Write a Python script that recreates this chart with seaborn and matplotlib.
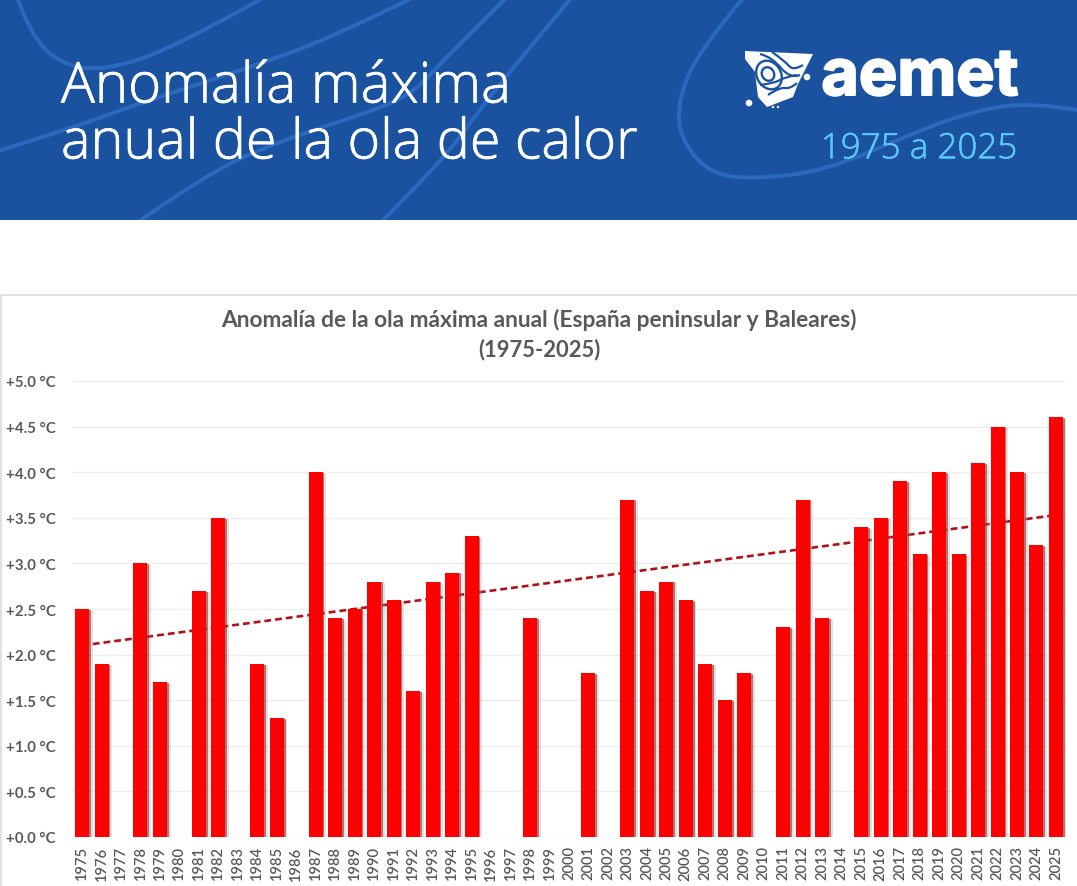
import numpy as np
import pandas as pd
import matplotlib
matplotlib.use('Agg')
import matplotlib.pyplot as plt
import matplotlib.patheffects as pe
from matplotlib.path import Path
from matplotlib.patches import PathPatch, Polygon, Circle, Ellipse, Rectangle
import seaborn as sns

years = list(range(1975, 2026))
anomaly = [2.5, 1.9, np.nan, 3.0, 1.7, np.nan, 2.7, 3.5, np.nan, 1.9,
           1.3, np.nan, 4.0, 2.4, 2.5, 2.8, 2.6, 1.6, 2.8, 2.9,
           3.3, np.nan, np.nan, 2.4, np.nan, np.nan, 1.8, np.nan, 3.7, 2.7,
           2.8, 2.6, 1.9, 1.5, 1.8, np.nan, 2.3, 3.7, 2.4, np.nan,
           3.4, 3.5, 3.9, 3.1, 4.0, 3.1, 4.1, 4.5, 4.0, 3.2,
           4.6]
trend_years = [1975, 2025]
trend_values = [2.10, 3.53]
y_ticks = [0, 0.5, 1, 1.5, 2, 2.5, 3, 3.5, 4, 4.5, 5]

W, H = 1077, 887
BLUE = '#1a52a0'
CURVE = '#2b69c0'
GREY = '#595959'
HEAD_FONT = ['Open Sans', 'DejaVu Sans']

sns.set_theme(style='white')
plt.rcParams['font.family'] = ['Lato', 'DejaVu Sans']

fig = plt.figure(figsize=(W / 100, H / 100), dpi=100, facecolor='white')

# fondo en coordenadas de pixel: banner, curvas y logo
bg = fig.add_axes([0, 0, 1, 1], zorder=0)
bg.set_xlim(0, W)
bg.set_ylim(H, 0)
bg.axis('off')
bg.add_patch(Rectangle((0, 0), W, 221, color=BLUE, lw=0))


def smooth(points):
    verts = [points[0]]
    codes = [Path.MOVETO]
    for a, b in zip(points[1:-1], points[2:]):
        mid = ((a[0] + b[0]) / 2, (a[1] + b[1]) / 2)
        verts += [a, mid]
        codes += [Path.CURVE3, Path.CURVE3]
    verts[-1] = points[-1]
    return Path(verts, codes)


curves = [
    [(17, -2), (30, 35), (60, 65), (103, 72), (172, 50), (265, -2)],
    [(-2, 152), (70, 130), (137, 105), (230, 75), (330, 40), (414, -2)],
    [(125, 232), (206, 175), (275, 144), (357, 117), (412, 96), (446, 58), (507, -2)],
    [(372, 232), (440, 165), (480, 110), (522, 58), (572, -2)],
    [(744, -2), (700, 50), (678, 100), (680, 140), (710, 175), (755, 180), (824, 172),
     (900, 140), (962, 115), (1030, 102), (1082, 112)],
]
clip = Rectangle((0, 0), W, 221, transform=bg.transData)
for pts in curves:
    p = PathPatch(smooth(pts), fill=False, edgecolor=CURVE, lw=2.8)
    bg.add_patch(p)
    p.set_clip_path(clip)

stroke = [pe.withStroke(linewidth=0.5, foreground='white')]
bg.text(61, 89, 'Anomalía máxima', color='white', fontsize=40.6, family=HEAD_FONT,
        weight='light', va='center', ha='left', path_effects=stroke)
bg.text(61, 145, 'anual de la ola de calor', color='white', fontsize=40.1, family=HEAD_FONT,
        weight='light', va='center', ha='left', path_effects=stroke)
bg.text(1017, 150, '1975 a 2025', color='#5cc8f5', fontsize=25.2, family=HEAD_FONT,
        weight='light', va='center', ha='right',
        path_effects=[pe.withStroke(linewidth=0.4, foreground='#5cc8f5')])
bg.text(1018, 79, 'aemet', color='white', fontsize=46.5, family=['Inter', 'DejaVu Sans'], weight='bold',
        va='center', ha='right',
        path_effects=[pe.withStroke(linewidth=1.5, foreground='white')])

# logo simplificado
logo = [(745, 52), (813, 55), (798, 85), (793, 98), (767, 108), (758, 98), (755, 73), (745, 60)]
bg.add_patch(Polygon(logo, color='white', lw=0))
for cx, cy, w, h in [(769, 76, 24, 30), (768, 75, 12, 14)]:
    bg.add_patch(Ellipse((cx, cy), w, h, angle=-30, fill=False, edgecolor=BLUE, lw=1.7))
bands = [
    [(772, 53), (785, 62), (793, 72), (803, 66)],
    [(760, 55), (772, 58), (790, 80), (800, 76)],
    [(768, 96), (780, 88), (790, 90), (797, 84)],
    [(760, 86), (775, 84), (785, 78), (797, 76)],
]
for pts in bands:
    bg.add_patch(PathPatch(smooth(pts), fill=False, edgecolor=BLUE, lw=1.6))
bg.add_patch(Circle((807, 78), 3.3, color='white', lw=0))
bg.add_patch(Circle((749, 104), 3.3, color='white', lw=0))
bg.add_patch(Circle((773, 108), 1.2, color='white', lw=0))
bg.add_patch(Circle((778, 108), 1.2, color='white', lw=0))

# marco del grafico
bg.add_patch(Rectangle((1, 296), W + 10, H, fill=False, edgecolor='#dcdcdc', lw=1.2))

bg.text(539, 320, 'Anomalía de la ola máxima anual (España peninsular y Baleares)',
        color=GREY, fontsize=16.4, weight='bold', ha='center', va='center')
bg.text(539, 350, '(1975-2025)', color=GREY, fontsize=15.8, weight='bold', ha='center', va='center')

# grafico
ax = fig.add_axes([72.3 / W, (H - 838) / H, 993.4 / W, 456 / H], zorder=1)
ax.patch.set_alpha(0)

df = pd.DataFrame({'year': [str(y) for y in years], 'anomaly': anomaly})
sns.barplot(data=df, x='year', y='anomaly', color='#fe0000', saturation=1, width=0.72, ax=ax, zorder=3)
for bar in ax.patches:
    bar.set_linewidth(0)
    bar.set_path_effects([
        pe.SimplePatchShadow(offset=(2.6, -1.2), shadow_rgbFace='#999999', alpha=0.3),
        pe.SimplePatchShadow(offset=(1.2, -0.6), shadow_rgbFace='#8a2020', alpha=0.55),
        pe.Normal(),
    ])

trend_pos = [years.index(y) for y in trend_years]
sns.lineplot(x=trend_pos, y=trend_values, color='#b01218', lw=1.9, ax=ax, zorder=2, linestyle=(0, (2.6, 1.5)))

ax.set_xlim(-0.5, len(years) - 0.5)
ax.set_ylim(0, 5)
ax.set_yticks(y_ticks)
ax.set_yticklabels([f'+{v:.1f} °C' for v in y_ticks], fontsize=10.8, weight='bold', color=GREY)
ax.set_xticks(range(len(years)))
ax.set_xticklabels(df['year'], rotation=90, fontsize=10.6, weight='semibold', color=GREY)
ax.tick_params(axis='x', length=0, pad=6)
ax.tick_params(axis='y', length=0, pad=12)
ax.set_xlabel('')
ax.set_ylabel('')
ax.grid(True, axis='y', color='#eeeeee', lw=1.0, zorder=0)
ax.grid(False, axis='x')
ax.set_axisbelow(True)
sns.despine(ax=ax, left=True, bottom=True)

fig.savefig('out.png', dpi=100)
